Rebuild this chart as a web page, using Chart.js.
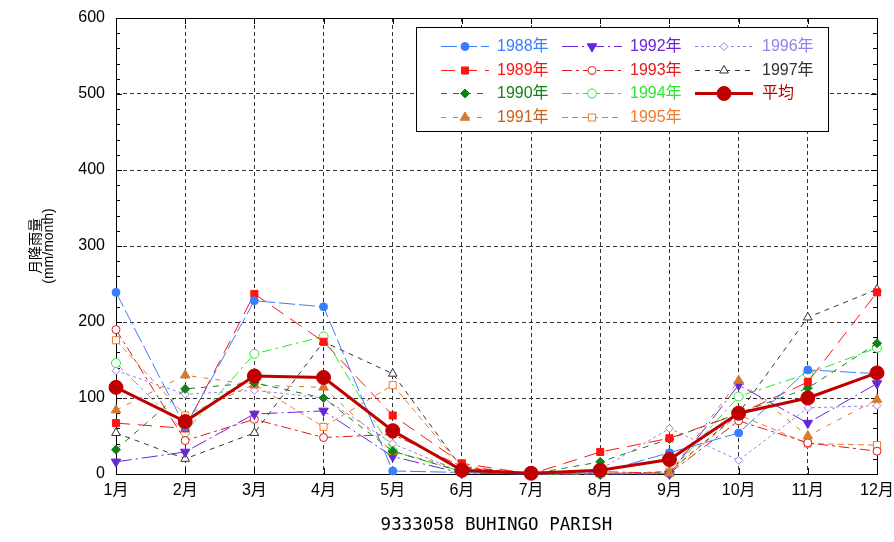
<!DOCTYPE html>
<html>
<head>
<meta charset="utf-8">
<title>月降雨量</title>
<script src="https://cdn.jsdelivr.net/npm/chart.js@4.4.0/dist/chart.umd.min.js"></script>
<style>
  html, body { margin: 0; padding: 0; background: #fff; }
</style>
</head>
<body>
<canvas id="rainChart" width="894" height="542"></canvas>
<script>
'use strict';

const months = ['1月', '2月', '3月', '4月', '5月', '6月', '7月', '8月', '9月', '10月', '11月', '12月'];
const yTicks = [0, 100, 200, 300, 400, 500, 600];

const rain1988 = [239, 62, 228, 220, 4, 2, 0, 2, 28, 54, 137, 132];
const rain1989 = [67, 60, 237, 174, 77, 14, 0, 29, 47, 79, 121, 239];
const rain1990 = [32, 112, 120, 100, 30, 3, 0, 16, 46, 80, 113, 172];
const rain1991 = [84, 130, 117, 114, 29, 7, 0, 1, 1, 123, 50, 98];
const rain1992 = [16, 29, 79, 83, 23, 1, 0, 0, 0, 117, 67, 119];
const rain1993 = [190, 44, 72, 48, 52, 10, 0, 3, 1, 70, 41, 30];
const rain1994 = [146, 55, 158, 181, 30, 3, 0, 0, 1, 102, 132, 166];
const rain1995 = [176, 77, 118, 62, 117, 9, 0, 0, 3, 78, 40, 38];
const rain1996 = [136, 105, 110, 100, 40, 2, 0, 6, 60, 18, 87, 90];
const rain1997 = [54, 20, 54, 174, 132, 8, 0, 0, 3, 80, 206, 243];
const rainAvg  = [114, 69, 129, 127, 57, 5, 1, 5, 19, 80, 100, 133];

const SANS = '"Liberation Sans", "Noto Sans CJK JP", sans-serif';
const MONO = '"DejaVu Sans Mono", "Liberation Mono", monospace';

// label, data, colour, dash, marker, filled marker, radius, rotation
function yearSet(label, data, color, dash, style, filled, radius, rotation) {
  return {
    label, data,
    borderColor: color,
    borderWidth: 1,
    borderDash: dash,
    pointStyle: style,
    pointRotation: rotation || 0,
    pointRadius: radius,
    pointBorderWidth: 1,
    pointBorderColor: color,
    pointBackgroundColor: filled ? color : '#fff',
    textColor: color,
    tension: 0,
    clip: false,
    order: 1,
  };
}

const datasets = [
  yearSet('1988年', rain1988, '#3a7dff', [16, 4],        'circle',   true,  4),
  yearSet('1989年', rain1989, '#ff1414', [14, 8],        'rect',     true,  5),
  yearSet('1990年', rain1990, '#13801a', [6, 6],         'rectRot',  true,  4.5),
  yearSet('1991年', rain1991, '#d77a30', [5, 7],         'triangle', true,  5.5),
  yearSet('1992年', rain1992, '#6a26d6', [16, 4, 2, 4],  'triangle', true,  5.5, 180),
  yearSet('1993年', rain1993, '#e01a1a', [10, 4, 3, 4],  'circle',   false, 4),
  yearSet('1994年', rain1994, '#2ee62e', [10, 4, 3, 4],  'circle',   false, 4.5),
  yearSet('1995年', rain1995, '#ef7a2e', [6, 4],         'rect',     false, 5),
  yearSet('1996年', rain1996, '#9a7ee8', [3, 3],         'rectRot',  false, 4),
  yearSet('1997年', rain1997, '#333333', [5, 5],         'triangle', false, 5),
  {
    label: '平均', data: rainAvg,
    borderColor: '#c00000', borderWidth: 3,
    pointStyle: 'circle', pointRadius: 7, pointBorderWidth: 1,
    pointBorderColor: '#c00000', pointBackgroundColor: '#c00000',
    textColor: '#c00000', tension: 0, clip: false, order: 0,
  },
];
datasets[3].textColor = '#c8601a';

// axis box, inward ticks and minor y ticks
const framePlugin = {
  id: 'frame',
  beforeDatasetsDraw(chart) {
    const { ctx, chartArea: a, scales: { x, y } } = chart;
    ctx.save();
    ctx.strokeStyle = '#000';
    ctx.lineWidth = 1;
    ctx.setLineDash([]);
    ctx.strokeRect(a.left + 0.5, a.top + 0.5, a.right - a.left, a.bottom - a.top);
    ctx.beginPath();
    for (let v = 0; v <= 600; v += 20) {
      const py = Math.round(y.getPixelForValue(v)) + 0.5;
      const len = v % 100 === 0 ? 6 : 4;
      ctx.moveTo(a.left, py); ctx.lineTo(a.left + len, py);
      ctx.moveTo(a.right, py); ctx.lineTo(a.right - len, py);
    }
    months.forEach((m, i) => {
      const px = Math.round(x.getPixelForValue(i)) + 0.5;
      ctx.moveTo(px, a.top); ctx.lineTo(px, a.top + 6);
      ctx.moveTo(px, a.bottom); ctx.lineTo(px, a.bottom - 6);
    });
    ctx.stroke();
    ctx.restore();
  },
};

// three-column legend box inside the plot
const legendPlugin = {
  id: 'boxLegend',
  afterDatasetsDraw(chart) {
    const { ctx } = chart;
    const box = { x: 416, y: 27, w: 412, h: 104 };
    const cols = [[441, 489, 497], [562, 622, 630], [695, 753, 762]];
    const rowY = [46, 70, 93, 117];
    ctx.save();
    ctx.fillStyle = '#fff';
    ctx.fillRect(box.x, box.y, box.w, box.h);
    ctx.strokeStyle = '#000';
    ctx.lineWidth = 1;
    ctx.strokeRect(box.x + 0.5, box.y + 0.5, box.w, box.h);
    chart.data.datasets.forEach((ds, i) => {
      const [x0, x1, tx] = cols[Math.floor(i / 4)];
      const yy = rowY[i % 4];
      ctx.strokeStyle = ds.borderColor;
      ctx.lineWidth = ds.borderWidth;
      ctx.setLineDash(ds.borderDash || []);
      ctx.beginPath();
      ctx.moveTo(x0, yy + 0.5);
      ctx.lineTo(x1, yy + 0.5);
      ctx.stroke();
      ctx.setLineDash([]);
      ctx.fillStyle = ds.pointBackgroundColor;
      ctx.strokeStyle = ds.pointBorderColor;
      ctx.lineWidth = ds.pointBorderWidth;
      Chart.helpers.drawPoint(ctx, {
        pointStyle: ds.pointStyle,
        rotation: ds.pointRotation || 0,
        radius: ds.pointRadius,
        borderWidth: ds.pointBorderWidth,
      }, (x0 + x1) / 2, yy + 0.5);
      ctx.fillStyle = ds.textColor;
      ctx.font = '16px ' + SANS;
      ctx.textBaseline = 'middle';
      ctx.textAlign = 'left';
      ctx.fillText(ds.label, tx, yy + 1);
    });
    ctx.restore();
  },
};

new Chart(document.getElementById('rainChart'), {
  type: 'line',
  data: { labels: months, datasets },
  options: {
    responsive: false,
    animation: false,
    events: [],
    layout: { padding: { left: 0, top: 18, right: 17, bottom: 0 } },
    plugins: { legend: { display: false }, tooltip: { enabled: false } },
    scales: {
      x: {
        type: 'category',
        offset: false,
        grid: { color: '#333', drawTicks: false, lineWidth: 1 },
        border: { display: false, dash: [4, 3] },
        ticks: { color: '#000', font: { size: 16, family: SANS }, padding: 7, maxRotation: 0, autoSkip: false },
        title: {
          display: true,
          text: '9333058 BUHINGO PARISH',
          color: '#000',
          font: { size: 17.5, family: MONO },
          padding: { top: 4, bottom: 6 },
        },
        afterFit(scale) {
          scale.height = 68;
          scale.paddingLeft = 0;
          scale.paddingRight = 0;
        },
      },
      y: {
        min: 0, max: 600,
        afterBuildTicks(scale) { scale.ticks = yTicks.map((v) => ({ value: v })); },
        grid: { color: '#333', drawTicks: false, lineWidth: 1 },
        border: { display: false, dash: [4, 3] },
        ticks: { color: '#000', font: { size: 16, family: SANS }, padding: 11 },
        title: {
          display: true,
          text: ['月降雨量', '(mm/month)'],
          color: '#000',
          font: { size: 14, family: SANS, lineHeight: 0.95 },
          padding: { top: 29, bottom: 0 },
        },
        afterFit(scale) {
          scale.width = 116;
          scale.paddingTop = 0;
          scale.paddingBottom = 0;
        },
      },
    },
  },
  plugins: [framePlugin, legendPlugin],
});
</script>
</body>
</html>
